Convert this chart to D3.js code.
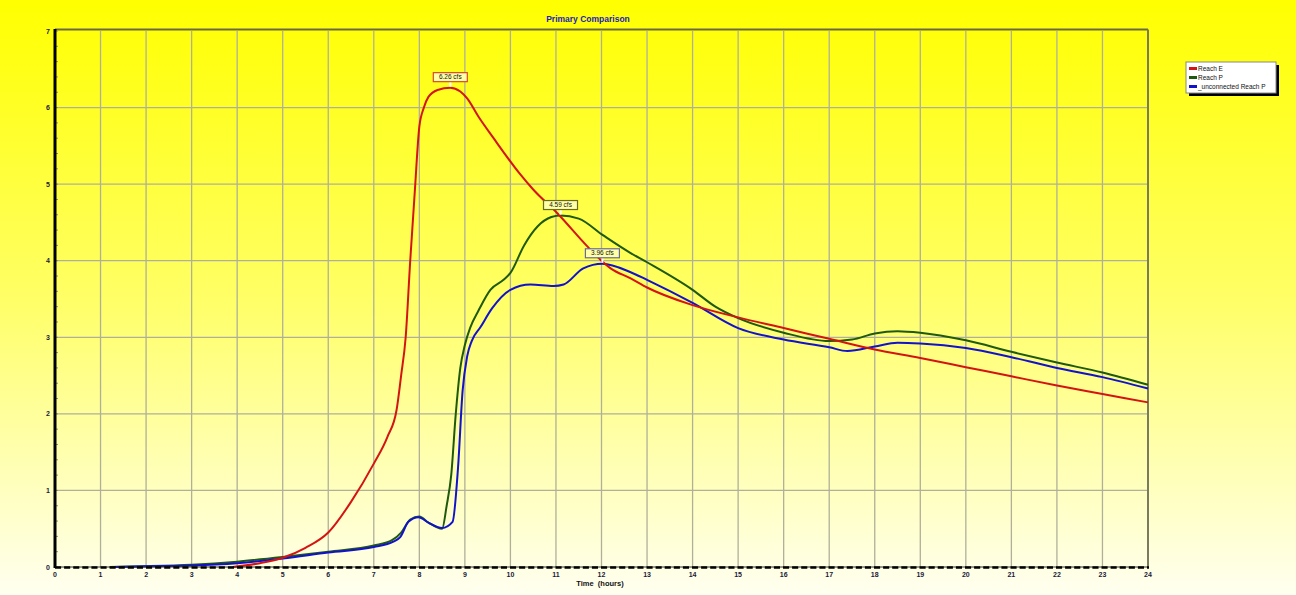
<!DOCTYPE html>
<html>
<head>
<meta charset="utf-8">
<script src="https://cdn.jsdelivr.net/npm/d3@7"></script>
<style>
  body { margin: 0; }
  svg { display: block; font-family: "Liberation Sans", Arial, sans-serif; }
  .tick-label { font-size: 7px; font-weight: bold; fill: #1a1a3a; }
</style>
</head>
<body>
<svg width="1296" height="595"></svg>
<script>
// series data (time in hours, flow in cfs)
const seriesNames = ['Reach E', 'Reach P', '_unconnected Reach P'];
const seriesColors = ['#d41414', '#1f5a0c', '#1212cc'];

const reachE_t = [3.9, 4.5, 5, 5.5, 6, 6.5, 7, 7.3, 7.5, 7.6, 7.7, 7.8, 7.9, 8.0, 8.1, 8.2, 8.4, 8.68, 8.9, 9.05, 9.3, 9.63, 10.2, 10.5, 11.03, 11.7, 12.0, 12.2, 12.64, 13, 14, 15, 16, 17, 18, 19, 20, 21, 22, 23, 24];
const reachE_v = [0, 0.05, 0.12, 0.25, 0.45, 0.85, 1.35, 1.7, 2.05, 2.5, 3.0, 4.0, 4.9, 5.75, 6.0, 6.14, 6.23, 6.26, 6.21, 6.12, 5.88, 5.6, 5.14, 4.93, 4.62, 4.18, 4.0, 3.9, 3.77, 3.65, 3.42, 3.26, 3.12, 2.98, 2.84, 2.73, 2.61, 2.49, 2.37, 2.26, 2.15];

const reachP_t = [1.2, 2, 3, 4, 5, 6, 7, 7.4, 7.6, 7.8, 8.0, 8.2, 8.5, 8.6, 8.7, 8.8, 8.9, 9.0, 9.12, 9.3, 9.56, 9.85, 10.0, 10.3, 10.6, 10.9, 11.1, 11.5, 12.04, 12.64, 13, 14, 14.5, 15, 16, 17, 17.5, 18, 18.5, 19, 20, 21, 22, 23, 24];
const reachP_v = [0, 0.01, 0.03, 0.07, 0.13, 0.2, 0.28, 0.35, 0.45, 0.62, 0.66, 0.58, 0.5, 0.8, 1.2, 2.0, 2.6, 2.9, 3.13, 3.35, 3.62, 3.75, 3.84, 4.2, 4.45, 4.57, 4.59, 4.55, 4.33, 4.1, 3.98, 3.62, 3.4, 3.25, 3.06, 2.95, 2.97, 3.05, 3.08, 3.06, 2.96, 2.81, 2.67, 2.54, 2.38];

const unconn_t = [1.3, 2, 3, 4, 5, 6, 7, 7.43, 7.58, 7.76, 7.98, 8.2, 8.5, 8.73, 8.85, 8.95, 9.05, 9.15, 9.34, 9.6, 10.0, 10.44, 10.95, 11.17, 11.6, 12.02, 12.64, 13, 14, 15, 16, 17, 17.4, 18, 18.5, 19, 20, 21, 22, 23, 24];
const unconn_v = [0, 0.01, 0.02, 0.05, 0.11, 0.19, 0.26, 0.33, 0.39, 0.59, 0.65, 0.58, 0.51, 0.59, 1.3, 2.3, 2.75, 2.95, 3.13, 3.38, 3.62, 3.69, 3.67, 3.69, 3.9, 3.96, 3.85, 3.75, 3.45, 3.12, 2.97, 2.87, 2.82, 2.88, 2.93, 2.92, 2.86, 2.74, 2.6, 2.48, 2.33];

const peakLabels = ['6.26 cfs', '4.59 cfs', '3.96 cfs'];
const peakBorders = ['#d84a2a', '#6a6a20', '#6a6a9a'];

const xTicks = d3.range(0, 25, 1);
const yTicks = d3.range(0, 8, 1);

// chart frame
const pLeft = 55, pRight = 1148, pTop = 31, pBottom = 567;

const svg = d3.select('svg');

const defs = svg.append('defs');
const grad = defs.append('linearGradient')
    .attr('id', 'bg').attr('x1', 0).attr('y1', 0).attr('x2', 0).attr('y2', 1);
grad.append('stop').attr('offset', '0%').attr('stop-color', '#ffff00');
grad.append('stop').attr('offset', '50%').attr('stop-color', '#ffff66');
grad.append('stop').attr('offset', '100%').attr('stop-color', '#fffff0');

svg.append('rect').attr('width', 1296).attr('height', 595).attr('fill', 'url(#bg)');

const x = d3.scaleLinear().domain([0, 24]).range([pLeft, pRight]);
const y = d3.scaleLinear().domain([0, 7]).range([pBottom, pTop]);

// grid lines
const grid = svg.append('g');
grid.selectAll('.vg').data(xTicks.slice(1, -1)).enter().append('line')
    .attr('x1', d => x(d)).attr('x2', d => x(d))
    .attr('y1', pTop).attr('y2', pBottom)
    .attr('stroke', '#b0b09a').attr('stroke-width', 1.3);
grid.selectAll('.hg').data(yTicks.slice(1, -1)).enter().append('line')
    .attr('x1', pLeft).attr('x2', pRight)
    .attr('y1', d => y(d)).attr('y2', d => y(d))
    .attr('stroke', '#b0b09a').attr('stroke-width', 1.3);

// frame top/right
svg.append('line').attr('x1', pLeft).attr('x2', pRight).attr('y1', pTop - 1.5).attr('y2', pTop - 1.5)
    .attr('stroke', '#6a6a40').attr('stroke-width', 2.2);
svg.append('line').attr('x1', pRight).attr('x2', pRight).attr('y1', pTop - 1.5).attr('y2', pBottom)
    .attr('stroke', '#7a7a60').attr('stroke-width', 2);

// y minor ticks
svg.append('g').selectAll('line').data(d3.range(0, 7.01, 0.2)).enter().append('line')
    .attr('x1', pLeft).attr('x2', pLeft + 3)
    .attr('y1', d => y(d)).attr('y2', d => y(d))
    .attr('stroke', '#909080').attr('stroke-width', 1);

// lines
const series = [
  {t: reachE_t, v: reachE_v},
  {t: reachP_t, v: reachP_v},
  {t: unconn_t, v: unconn_v}
];

const line = d3.line()
    .x(d => x(d[0]))
    .y(d => y(d[1]))
    .curve(d3.curveMonotoneX);

const drawOrder = [1, 2, 0];
drawOrder.forEach(i => {
  const pts = series[i].t.map((t, k) => [t, series[i].v[k]]);
  svg.append('path')
      .attr('d', line(pts))
      .attr('fill', 'none')
      .attr('stroke', seriesColors[i])
      .attr('stroke-width', 2)
      .attr('stroke-linejoin', 'round');
});

// axes
svg.append('line').attr('x1', pLeft).attr('x2', pLeft).attr('y1', pTop - 2).attr('y2', pBottom + 1)
    .attr('stroke', '#000').attr('stroke-width', 3);
svg.append('line').attr('x1', pLeft).attr('x2', pRight).attr('y1', pBottom).attr('y2', pBottom)
    .attr('stroke', '#333').attr('stroke-width', 1);
svg.append('line').attr('x1', pLeft).attr('x2', pRight + 1).attr('y1', pBottom + 0.5).attr('y2', pBottom + 0.5)
    .attr('stroke', '#000').attr('stroke-width', 2.5).attr('stroke-dasharray', '6.1,3');

// tick labels
svg.append('g').selectAll('text').data(xTicks).enter().append('text')
    .attr('class', 'tick-label')
    .attr('x', d => x(d)).attr('y', pBottom + 10)
    .attr('text-anchor', 'middle')
    .text(d => d);
svg.append('g').selectAll('text').data(yTicks).enter().append('text')
    .attr('class', 'tick-label')
    .attr('x', pLeft - 5).attr('y', d => y(d) + 2.5)
    .attr('text-anchor', 'end')
    .text(d => d);

// titles
svg.append('text')
    .attr('x', 588).attr('y', 22)
    .attr('text-anchor', 'middle')
    .attr('font-size', 8.5).attr('font-weight', 'bold').attr('fill', '#2222bb')
    .text('Primary Comparison');

svg.append('text')
    .attr('x', 600).attr('y', 586)
    .attr('text-anchor', 'middle')
    .attr('font-size', 7.5).attr('font-weight', 'bold').attr('fill', '#111')
    .attr('xml:space', 'preserve')
    .text('Time  (hours)');

// peak annotations
series.forEach((s, i) => {
  const k = d3.maxIndex(s.v);
  const px = x(s.t[k]), py = y(s.v[k]);
  const g = svg.append('g');
  const w = 34, h = 9;
  g.append('line').attr('x1', px).attr('x2', px).attr('y1', py - 1).attr('y2', py - 6)
      .attr('stroke', '#fff').attr('stroke-width', 2);
  g.append('rect')
      .attr('x', px - w / 2).attr('y', py - 6 - h)
      .attr('width', w).attr('height', h)
      .attr('fill', '#ffffa8').attr('stroke', peakBorders[i]).attr('stroke-width', 1.2);
  g.append('text')
      .attr('x', px).attr('y', py - 8.5)
      .attr('text-anchor', 'middle')
      .attr('font-size', 6.5).attr('fill', '#111')
      .text(peakLabels[i]);
});

// legend
const lg = svg.append('g').attr('transform', 'translate(1186,62)');
lg.append('rect').attr('x', 3).attr('y', 3).attr('width', 90).attr('height', 31).attr('fill', '#000');
lg.append('rect').attr('width', 90).attr('height', 31).attr('fill', '#fff')
    .attr('stroke', '#888').attr('stroke-width', 1);
seriesNames.forEach((n, i) => {
  lg.append('rect').attr('x', 3).attr('y', 5 + i * 9).attr('width', 8).attr('height', 3)
      .attr('fill', seriesColors[i]);
  lg.append('text').attr('x', 12).attr('y', 9 + i * 9)
      .attr('font-size', 6.5).attr('fill', '#111')
      .text(n);
});
</script>
</body>
</html>
